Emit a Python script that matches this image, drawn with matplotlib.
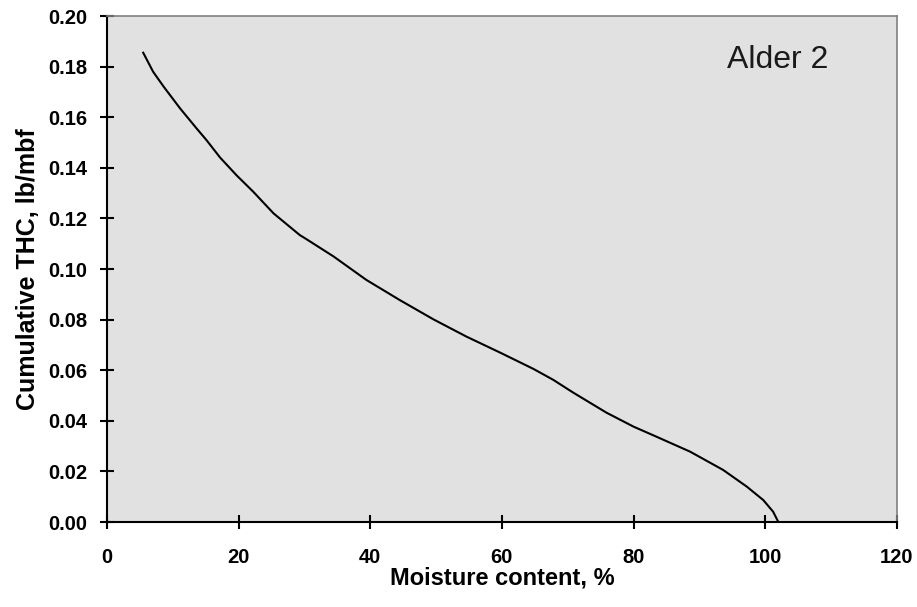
import numpy as np
import matplotlib.pyplot as plt

# moisture content (%) and cumulative THC (lb/mbf)
moisture = [5.5, 7.0, 8.6, 11.1, 13.6, 15.1, 17.2, 19.7, 22.2, 25.3, 29.3, 30.3,
            34.4, 39.4, 44.5, 49.6, 54.6, 59.7, 64.8, 67.8, 70.8, 75.9, 80.0,
            83.5, 88.6, 93.6, 97.2, 99.7, 101.2, 102.0]
thc = [0.1855, 0.1780, 0.1721, 0.1635, 0.1556, 0.1510, 0.1440, 0.1370, 0.1306,
       0.1220, 0.1134, 0.1118, 0.1050, 0.0957, 0.0877, 0.0801, 0.0733, 0.0670,
       0.0605, 0.0562, 0.0512, 0.0432, 0.0377, 0.0337, 0.0278, 0.0206, 0.0140,
       0.0087, 0.0041, 0.0]

x_ticks = [0, 20, 40, 60, 80, 100, 120]
y_ticks = [0.00, 0.02, 0.04, 0.06, 0.08, 0.10, 0.12, 0.14, 0.16, 0.18, 0.20]

plt.rcParams['font.family'] = ['Liberation Sans', 'DejaVu Sans']

fig = plt.figure(figsize=(9.17, 6.07), dpi=100)
ax = fig.add_axes([0.1167, 0.140, 0.8613, 0.8336])
ax.set_facecolor('#e1e1e1')

ax.plot(moisture, thc, color='black', linewidth=1.5)

ax.set_xlim(0, 120)
ax.set_ylim(0, 0.20)
ax.set_xticks(x_ticks)
ax.set_xticklabels([str(v) for v in x_ticks], fontsize=14.5, fontweight='bold')
ax.set_yticks(y_ticks)
ax.set_yticklabels(['%.2f' % v for v in y_ticks], fontsize=14.5, fontweight='bold')
ax.tick_params(direction='inout', length=10, width=1.5, color='black')
ax.tick_params(axis='x', pad=14)
ax.tick_params(axis='y', pad=9)

for side in ['left', 'bottom']:
    ax.spines[side].set_color('black')
    ax.spines[side].set_linewidth(1.5)
for side in ['top', 'right']:
    ax.spines[side].set_color('#808080')
    ax.spines[side].set_linewidth(1.2)

ax.set_xlabel('Moisture content, %', fontsize=17, fontweight='bold', labelpad=-1)
ax.set_ylabel('Cumulative THC, lb/mbf', fontsize=18, fontweight='bold', labelpad=6)

ax.text(0.849, 0.913, 'Alder 2', transform=ax.transAxes, ha='center', va='center',
        fontsize=23, color='#1a1a1a')

fig.savefig('out.png', dpi=100)
